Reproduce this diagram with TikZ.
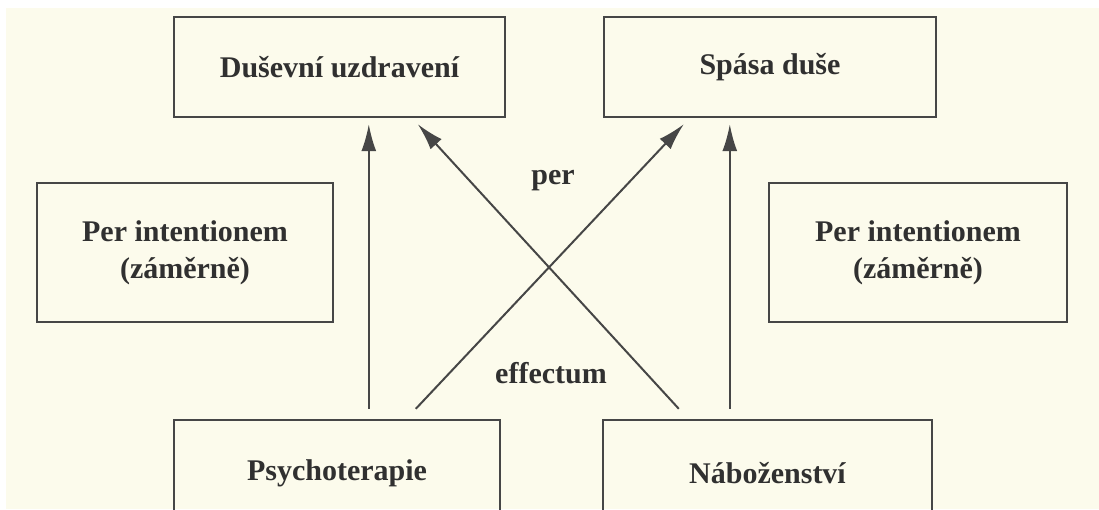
\documentclass[tikz,border=0pt]{standalone}
\usepackage{fontspec}
\setmainfont{Liberation Serif}
\usetikzlibrary{arrows.meta,calc}
\definecolor{paper}{RGB}{252,251,236}
\definecolor{ink}{RGB}{48,48,48}
\definecolor{rule}{RGB}{70,70,70}
\tikzset{
  box/.style={draw=rule, line width=2.4pt, align=center, text=ink,
    font=\bfseries\fontsize{30}{37}\selectfont, inner sep=0pt},
  lbl/.style={text=ink, font=\bfseries\fontsize{30}{37}\selectfont, inner sep=0pt},
  arr/.style={draw=rule, line width=2pt, -{Latex[length=27pt,width=15pt]}},
}
\begin{document}
\begin{tikzpicture}[x=1pt,y=-1pt]
\useasboundingbox (0,0) rectangle (1099,509);
\fill[paper] (0,0) rectangle (1099,509);
\fill[white] (0,0) rectangle (1099,8);
\fill[white] (0,0) rectangle (6,509);
\begin{scope}
\clip (0,0) rectangle (1099,509);
\node[box, minimum width=331pt, minimum height=100pt] (dusev) at (339.5,67) {Duševní uzdravení};
\node[box, minimum width=332pt, minimum height=100pt] (spasa) at (770,67) {Spása duše};
\node[box, minimum width=296pt, minimum height=139pt] (perL) at (185,252.5) {Per intentionem\\(záměrně)};
\node[box, minimum width=298pt, minimum height=139pt] (perR) at (918,252.5) {Per intentionem\\(záměrně)};
\node[box, minimum width=326pt, minimum height=106pt] (psych) at (337,473) {Psychoterapie};
\node[box, minimum width=329pt, minimum height=106pt] (naboz) at (767.5,473) {Náboženství};
\end{scope}
\node[lbl] (per) at (553,181) {per};
\node[lbl] (eff) at (551,373) {effectum};
\coordinate (s1) at ($(psych.north west)+(196,-10)$);
\coordinate (s2) at ($(psych.north west)+(243,-10)$);
\coordinate (s3) at ($(naboz.north west)+(77,-10)$);
\coordinate (s4) at ($(naboz.north west)+(128,-10)$);
\draw[arr] (s1) -- ($(s1 |- dusev.south)+(0,6)$);
\draw[arr] (s2) -- ($(spasa.south west)+(81,6)$);
\draw[arr] (s3) -- ($(dusev.south west)+(245,6)$);
\draw[arr] (s4) -- ($(s4 |- spasa.south)+(0,6)$);
\end{tikzpicture}
\end{document}
